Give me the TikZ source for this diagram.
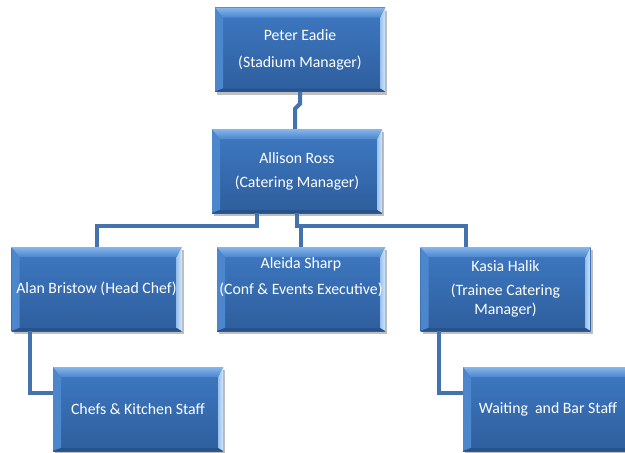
\documentclass[tikz,border=0pt]{standalone}
\usepackage{fontspec}
\setmainfont{Carlito}
\usetikzlibrary{positioning, calc, shadows}
\definecolor{xfacetop}{HTML}{3E79C2}
\definecolor{xfacebot}{HTML}{2E5E9D}
\definecolor{xbevtop}{HTML}{86B6EC}
\definecolor{xbevleft}{HTML}{4C86CD}
\definecolor{xbevright}{HTML}{CFE7FF}
\definecolor{xbevbot}{HTML}{27538C}
\definecolor{xlink}{HTML}{4372AC}
\tikzset{
	role/.style={minimum width=170pt, minimum height=84pt, inner sep=0pt, align=center,
		text=white, font=\fontsize{15.8}{19}\selectfont,
		top color=xfacetop, bottom color=xfacebot,
		drop shadow={shadow xshift=2pt, shadow yshift=-3pt, opacity=0.25, fill=black},
		path picture={
			\path (path picture bounding box.south west) coordinate (bsw)
				(path picture bounding box.north east) coordinate (bne);
			\fill[xbevleft] (bsw |- bne) -- ([xshift=8pt,yshift=-10pt]bsw |- bne) -- ([xshift=8pt,yshift=3pt]bsw) -- (bsw) -- cycle;
			\shade[left color=xbevright!60!xbevleft, right color=xbevright] (bne) -- (bne |- bsw) -- ([xshift=-5pt,yshift=3pt]bne |- bsw) -- ([xshift=-5pt,yshift=-10pt]bne) -- cycle;
			\fill[xbevbot] (bsw) -- ([xshift=8pt,yshift=3pt]bsw) -- ([xshift=-5pt,yshift=3pt]bne |- bsw) -- (bne |- bsw) -- cycle;
			\shade[top color=xbevtop, bottom color=xbevleft] (bsw |- bne) -- (bne) -- ([xshift=-5pt,yshift=-10pt]bne) -- ([xshift=8pt,yshift=-10pt]bsw |- bne) -- cycle;
		}},
	link/.style={line width=4pt, draw=xlink},
}

\begin{document}
\begin{tikzpicture}[x=1pt, y=-1pt]
		\useasboundingbox (0,0) rectangle (625,453);
		% Management
		\node[role] (peter) at (300,49.5) {Peter Eadie\\[8pt](Stadium Manager)};
		\node[role] (allison) at (297,171) {Allison Ross\\[5pt](Catering Manager)};

		% Second row
		\node[role] (alan) at (96.5,289) {Alan Bristow (Head Chef)};
		\node[role, minimum width=168pt] (aleida) at (301,289) {Aleida Sharp\\[7pt](Conf \& Events Executive)\\[7pt]\mbox{}};
		\node[role] (kasia) at (505.5,289) {Kasia Halik\\[5pt](Trainee Catering\\Manager)};

		% Staff
		\node[role] (chefs) at (138,409) {Chefs \& Kitchen Staff};
		\node[role] (waiting) at (548,409) {Waiting~ and Bar Staff};

		\draw[link] (peter.south) -- ++(0,12) -- ++(-5,5) -- ([xshift=-5pt]peter.south |- allison.north);
		\draw[link] ([xshift=-40pt]allison.south) -- ++(0,13) -| (alan.north);
		\draw[link] (allison.south) -- ++(0,13) -| (aleida.north);
		\draw[link] (allison.south) -- ++(0,13) -| ([xshift=-40pt]kasia.north);
		\draw[link] ([xshift=-67pt]alan.south) |- ([yshift=16pt]chefs.west);
		\draw[link] ([xshift=-67pt]kasia.south) |- ([yshift=16pt]waiting.west);
	\end{tikzpicture}
\end{document}
